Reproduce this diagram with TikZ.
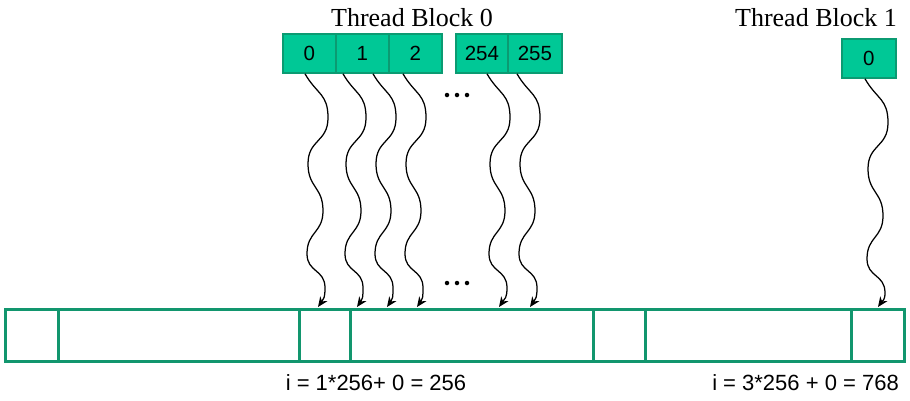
\documentclass[tikz,border=0pt]{standalone}
\usepackage{fontspec}
\newfontfamily\arialf{Liberation Sans}
\newfontfamily\serf{Liberation Serif}
\usetikzlibrary{arrows.meta}
\definecolor{cellfill}{HTML}{00C896}
\definecolor{cellline}{HTML}{0B9B72}
\definecolor{arrline}{HTML}{12966E}
\newcommand\wavearrow[2]{%
  \draw[wv] (#1) to[out=-60,in=90] ++(23,-44) to[out=-90,in=90] ++(-20,-46)
    to[out=-90,in=90] ++(15,-47) to[out=-90,in=90] ++(-16,-43)
    to[out=-90,in=90] ++(18,-34) to[out=-90,in=55] (#2);}
\begin{document}
\begin{tikzpicture}[x=1pt,y=1pt,
  cell/.style={draw=cellline, fill=cellfill, line width=1.8pt, minimum width=53pt,
    minimum height=39pt, inner sep=0pt, anchor=north west,
    font=\arialf\fontsize{20.5}{20.5}\selectfont},
  seg/.style={draw=arrline, line width=2.5pt, minimum height=52pt, inner sep=0pt,
    anchor=north west},
  wv/.style={line width=1.25pt, looseness=1.25, -{Stealth[length=10pt,width=8.5pt,inset=3pt]}},
  ttl/.style={font=\serf\fontsize{26}{26}\selectfont, inner sep=0pt},
  idx/.style={font=\arialf\fontsize{22}{22}\selectfont, inner sep=0pt},
  dot/.style={circle, fill=black, inner sep=0pt, minimum size=4.5pt}]
\useasboundingbox (0,0) rectangle (910,-400);

% titles
\node[ttl, anchor=base] (tb0) at (412,-26) {Thread Block 0};
\node[ttl, anchor=base] (tb1) at (816,-26) {Thread Block 1};

% thread cells
\node[cell] (c0) at (282,-33) {0};
\node[cell] (c1) at (335,-33) {1};
\node[cell] (c2) at (388,-33) {2};
\node[cell, minimum width=52pt] (c254) at (455,-33) {254};
\node[cell, minimum width=54pt] (c255) at (507,-33) {255};
\node[cell, minimum width=54pt] (d0) at (841,-38) {0};

% array
\node[seg, minimum width=53pt] (a1) at (4,-308) {};
\node[seg, minimum width=241pt] (a2) at (57,-308) {};
\node[seg, minimum width=51pt] (a3) at (298,-308) {};
\node[seg, minimum width=243pt] (a4) at (349,-308) {};
\node[seg, minimum width=52pt] (a5) at (592,-308) {};
\node[seg, minimum width=206pt] (a6) at (644,-308) {};
\node[seg, minimum width=53pt] (a7) at (850,-308) {};

% dots
\node[dot] (p1) at (447,-95) {};
\node[dot] (p2) at (457,-95) {};
\node[dot] (p3) at (467,-95) {};
\node[dot] (q1) at (447,-283) {};
\node[dot] (q2) at (457,-283) {};
\node[dot] (q3) at (467,-283) {};

% arrow ends
\coordinate (s0) at ([xshift=23pt]c0.south west);
\coordinate (s1) at ([xshift=8pt]c1.south west);
\coordinate (s2) at ([xshift=38pt]c1.south west);
\coordinate (s3) at ([xshift=15pt]c2.south west);
\coordinate (s4) at ([xshift=32pt]c254.south west);
\coordinate (s5) at ([xshift=10pt]c255.south west);
\coordinate (s6) at ([xshift=24pt]d0.south west);
\coordinate (e0) at ([xshift=20pt,yshift=1pt]a3.north west);
\coordinate (e1) at ([xshift=8pt,yshift=1pt]a4.north west);
\coordinate (e2) at ([xshift=38pt,yshift=1pt]a4.north west);
\coordinate (e3) at ([xshift=68pt,yshift=1pt]a4.north west);
\coordinate (e4) at ([xshift=150pt,yshift=1pt]a4.north west);
\coordinate (e5) at ([xshift=181pt,yshift=1pt]a4.north west);
\coordinate (e6) at ([xshift=28pt,yshift=1pt]a7.north west);

\wavearrow{s0}{e0}
\wavearrow{s1}{e1}
\wavearrow{s2}{e2}
\wavearrow{s3}{e3}
\wavearrow{s4}{e4}
\wavearrow{s5}{e5}
\wavearrow{s6}{e6}

% index labels
\node[idx] (l0) at (376,-383) {i = 1*256+ 0 = 256};
\node[idx, anchor=east] (l1) at (899,-383) {i = 3*256 + 0 = 768};
\end{tikzpicture}
\end{document}
